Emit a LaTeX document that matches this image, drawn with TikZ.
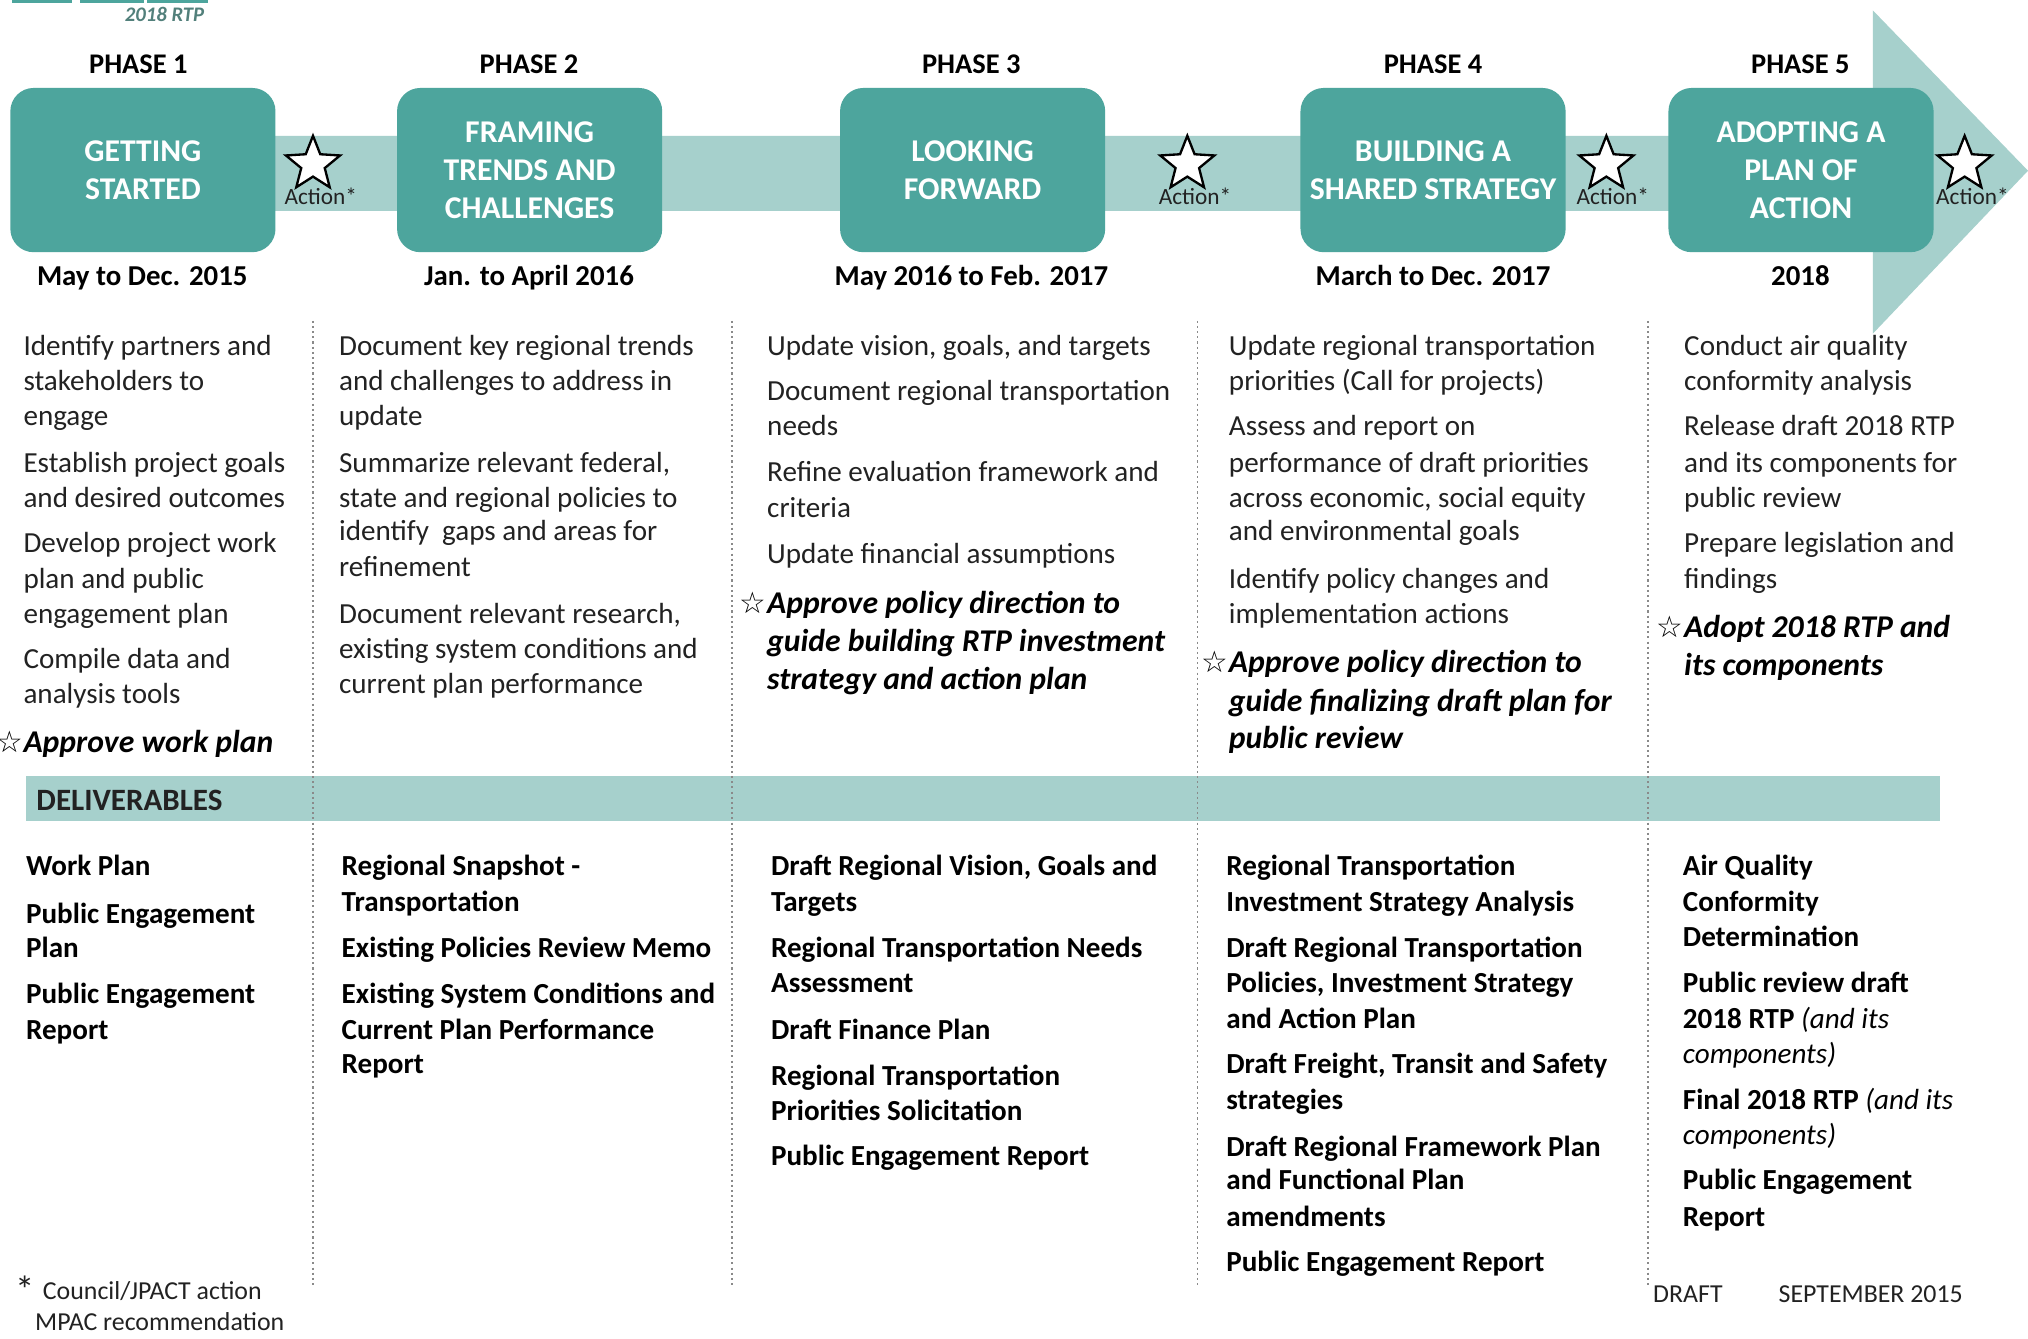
\documentclass[tikz,border=0pt]{standalone}
\usepackage{fontspec}
\setmainfont{Carlito}
\newfontfamily\dejavu{DejaVu Sans}
\usetikzlibrary{shapes.geometric}
\definecolor{boxteal}{HTML}{4DA59D}
\definecolor{bandteal}{HTML}{A6D0CC}
\definecolor{txt}{HTML}{222222}
\definecolor{rtp}{HTML}{52807B}
\definecolor{sepgray}{HTML}{8A8A8A}
\newcommand\hstar{\llap{{\dejavu\mdseries\upshape\fontsize{23}{23}\selectfont ☆}\hspace{0.5pt}}}
\tikzset{
  body/.style={inner sep=0pt, anchor=base west, text=txt, font=\fontsize{22.5}{27}\selectfont},
  act/.style={inner sep=0pt, anchor=base west, text=black, font=\fontsize{24.5}{29}\selectfont\bfseries\itshape},
  deliv/.style={inner sep=0pt, anchor=base west, text=black, font=\fontsize{22.5}{27}\selectfont\bfseries},
  phasebox/.style={fill=boxteal, rounded corners=18pt, minimum width=205pt, minimum height=127pt, inner sep=0pt, text=white, font=\fontsize{24.5}{29.5}\selectfont\bfseries, align=center},
  hdr/.style={inner sep=0pt, anchor=base, text=black, font=\fontsize{22}{26}\selectfont\bfseries},
  datelbl/.style={inner sep=0pt, anchor=base, text=black, font=\fontsize{22.3}{26}\selectfont\bfseries},
  actstar/.style={star, star points=5, star point ratio=2.3, minimum size=44pt, inner sep=0pt, draw=black, line width=1.8pt, fill=white},
  actlbl/.style={inner sep=0pt, anchor=base, text=txt, font=\fontsize{18}{20}\selectfont},
  sepline/.style={draw=sepgray, line width=1.2pt, dash pattern=on 1.6pt off 2.4pt},
  foot/.style={inner sep=0pt, anchor=base west, text=txt, font=\fontsize{20}{24}\selectfont},
}
\begin{document}
\begin{tikzpicture}[x=1pt,y=-1pt]
\useasboundingbox (0,0) rectangle (1568,1035);
\fill[white] (0,0) rectangle (1568,1035);
% logo remnants
\fill[boxteal] (9,0) rectangle (56,2);
\fill[boxteal] (62,0) rectangle (111,2);
\fill[boxteal] (114,0) rectangle (161,2);
\node[inner sep=0pt, anchor=base east, text=rtp, font=\fontsize{16}{18}\selectfont\bfseries\itshape] (rtp) at (158,17) {2018 RTP};
% band arrow
\fill[bandteal] (200,105) -- (1448,105) -- (1448,8) -- (1568,132) -- (1448,258) -- (1448,163) -- (200,163) -- cycle;
% phase boxes
\node[phasebox] (p1) at (110.5,131.5) {GETTING\\STARTED};
\node[phasebox] (p2) at (409.5,131.5) {FRAMING\\TRENDS AND\\CHALLENGES};
\node[phasebox] (p3) at (752,131.5) {LOOKING\\FORWARD};
\node[phasebox] (p4) at (1108,131.5) {BUILDING A\\SHARED STRATEGY};
\node[phasebox] (p5) at (1392.5,131.5) {ADOPTING A\\PLAN OF\\ACTION};
% headers
\node[hdr] (h1) at (107,57) {PHASE 1};
\node[hdr] (h2) at (409,57) {PHASE 2};
\node[hdr] (h3) at (751,57) {PHASE 3};
\node[hdr] (h4) at (1108,57) {PHASE 4};
\node[hdr] (h5) at (1392,57) {PHASE 5};
% dates
\node[datelbl] (d1) at (110,221) {May to Dec. 2015};
\node[datelbl] (d2) at (409,221) {Jan. to April 2016};
\node[datelbl] (d3) at (751,221) {May 2016 to Feb. 2017};
\node[datelbl] (d4) at (1108,221) {March to Dec. 2017};
\node[datelbl] (d5) at (1392,221) {2018};
% action stars
\node[actstar] (s1) at (242,127) {};
\node[actstar] (s2) at (918,127) {};
\node[actstar] (s3) at (1242,127) {};
\node[actstar] (s4) at (1519,127) {};
\node[actlbl] (a1) at (248,158) {Action*};
\node[actlbl] (a2) at (924,158) {Action*};
\node[actlbl] (a3) at (1247,158) {Action*};
\node[actlbl] (a4) at (1525,158) {Action*};
% deliverables band
\fill[bandteal] (20,600) rectangle (1500,635);
\node[inner sep=0pt, anchor=base west, text=txt, font=\fontsize{24}{28}\selectfont\bfseries] (dl) at (28,627) {DELIVERABLES};
% separators
\draw[sepline] (242,248) -- (242,995);
\draw[sepline] (566,248) -- (566,995);
\draw[sepline] (926,248) -- (926,995);
\draw[sepline] (1274,248) -- (1274,995);
% column 1
\foreach \yy/\txt [count=\i] in {275/{Identify partners and}, 302/{stakeholders to}, 329/{engage}, 365/{Establish project goals}, 392/{and desired outcomes}, 427/{Develop project work}, 455/{plan and public}, 482/{engagement plan}, 517/{Compile data and}, 544/{analysis tools}}
  \node[body, name=ca\i] at (18,\yy) {\txt};
\node[act] (cax) at (18,582) {\hstar Approve work plan};
% column 2
\foreach \yy/\txt [count=\i] in {275/{Document key regional trends}, 302/{and challenges to address in}, 329/{update}, 365/{Summarize relevant federal,}, 392/{state and regional policies to}, 418/{identify\ \ gaps and areas for}, 446/{refinement}, 482/{Document relevant research,}, 509/{existing system conditions and}, 536/{current plan performance}}
  \node[body, name=cb\i] at (262,\yy) {\txt};
% column 3
\foreach \yy/\txt [count=\i] in {275/{Update vision, goals, and targets}, 310/{Document regional transportation}, 337/{needs}, 372/{Refine evaluation framework and}, 400/{criteria}, 436/{Update financial assumptions}}
  \node[body, name=cc\i] at (593,\yy) {\txt};
\node[act] (ccx1) at (593,474) {\hstar Approve policy direction to};
\node[act] (ccx2) at (593,504) {guide building RTP investment};
\node[act] (ccx3) at (593,533) {strategy and action plan};
% column 4
\foreach \yy/\txt [count=\i] in {275/{Update regional transportation}, 302/{priorities (Call for projects)}, 337/{Assess and report on}, 365/{performance of draft priorities}, 392/{across economic, social equity}, 418/{and environmental goals}, 455/{Identify policy changes and}, 482/{implementation actions}}
  \node[body, name=cd\i] at (950,\yy) {\txt};
\node[act] (cdx1) at (950,520) {\hstar Approve policy direction to};
\node[act] (cdx2) at (950,550) {guide finalizing draft plan for};
\node[act] (cdx3) at (950,579) {public review};
% column 5
\foreach \yy/\txt [count=\i] in {275/{Conduct air quality}, 302/{conformity analysis}, 337/{Release draft 2018 RTP}, 365/{and its components for}, 392/{public review}, 427/{Prepare legislation and}, 455/{findings}}
  \node[body, name=ce\i] at (1302,\yy) {\txt};
\node[act] (cex1) at (1302,493) {\hstar Adopt 2018 RTP and};
\node[act] (cex2) at (1302,522) {its components};
% deliverables
\foreach \yy/\txt [count=\i] in {677/{Work Plan}, 714/{Public Engagement}, 740/{Plan}, 776/{Public Engagement}, 804/{Report}}
  \node[deliv, name=da\i] at (20,\yy) {\txt};
\foreach \yy/\txt [count=\i] in {677/{Regional Snapshot -}, 705/{Transportation}, 740/{Existing Policies Review Memo}, 776/{Existing System Conditions and}, 804/{Current Plan Performance}, 830/{Report}}
  \node[deliv, name=db\i] at (264,\yy) {\txt};
\foreach \yy/\txt [count=\i] in {677/{Draft Regional Vision, Goals and}, 705/{Targets}, 740/{Regional Transportation Needs}, 767/{Assessment}, 804/{Draft Finance Plan}, 839/{Regional Transportation}, 866/{Priorities Solicitation}, 901/{Public Engagement Report}}
  \node[deliv, name=dc\i] at (596,\yy) {\txt};
\foreach \yy/\txt [count=\i] in {677/{Regional Transportation}, 705/{Investment Strategy Analysis}, 740/{Draft Regional Transportation}, 767/{Policies, Investment Strategy}, 795/{and Action Plan}, 830/{Draft Freight, Transit and Safety}, 858/{strategies}, 894/{Draft Regional Framework Plan}, 920/{and Functional Plan}, 948/{amendments}, 983/{Public Engagement Report}}
  \node[deliv, name=dd\i] at (948,\yy) {\txt};
\foreach \yy/\txt [count=\i] in {677/{Air Quality}, 705/{Conformity}, 732/{Determination}, 767/{Public review draft}, 795/{2018 RTP \textit{\mdseries (and its}}, 822/{\textit{\mdseries components)}}, 858/{Final 2018 RTP \textit{\mdseries (and its}}, 885/{\textit{\mdseries components)}}, 920/{Public Engagement}, 948/{Report}}
  \node[deliv, name=de\i] at (1301,\yy) {\txt};
% footer
\node[foot, font=\fontsize{30}{30}\selectfont] (fa) at (12,1008) {*};
\node[foot] (fb) at (33,1005) {Council/JPACT action};
\node[foot] (fc) at (27,1029) {MPAC recommendation};
\node[foot] (fd) at (1278,1007) {DRAFT};
\node[foot] (fe) at (1375,1007) {SEPTEMBER 2015};
\end{tikzpicture}
\end{document}
